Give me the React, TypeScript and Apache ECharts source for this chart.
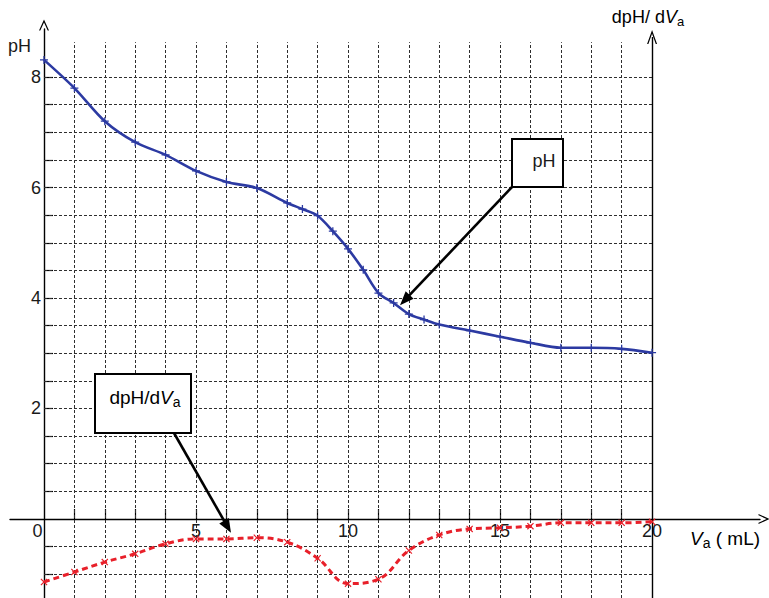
import React, { useEffect, useRef } from "react";
import * as echarts from "echarts";

// Titration readings: pH against added acid volume (mL)
const volumesPH = [0, 1, 2, 3, 4, 5, 6, 7, 8, 8.5, 9, 9.5, 10, 10.5, 11, 11.5, 12, 12.5, 13, 14, 15, 16, 17, 18, 19, 20];
const phValues = [8.31, 7.8, 7.2, 6.82, 6.59, 6.3, 6.1, 5.99, 5.72, 5.61, 5.49, 5.21, 4.89, 4.51, 4.09, 3.91, 3.71, 3.61, 3.52, 3.41, 3.3, 3.19, 3.1, 3.1, 3.08, 3.01];

// Derivative curve dpH/dVa
const volumesDeriv = [0, 1, 2, 3, 4, 5, 6, 7, 8, 9, 10, 11, 12, 13, 14, 15, 16, 17, 18, 19, 20];
const derivValues = [-1.14, -0.96, -0.78, -0.63, -0.45, -0.36, -0.36, -0.34, -0.42, -0.71, -1.17, -1.09, -0.57, -0.29, -0.18, -0.16, -0.13, -0.07, -0.07, -0.07, -0.05];

// Axis ticks, labels and grid
const xTickValues = [1, 2, 3, 4, 5, 6, 7, 8, 9, 10, 11, 12, 13, 14, 15, 16, 17, 18, 19];
const xLabelValues = [0, 5, 10, 15, 20];
const yTickValues = [-1, -0.5, 0.5, 1, 1.5, 2, 2.5, 3, 3.5, 4, 4.5, 5, 5.5, 6, 6.5, 7, 7.5, 8];
const yLabelValues = [2, 4, 6, 8];

// Axis extents
const X_MIN = -1.118;
const X_MAX = 23.55;
const Y_MIN = -1.43;
const Y_MAX = 8.869;
const GRID_TOP = 8.63;
const RIGHT_AXIS_TOP = 8.724;
const X_END = 20;

// Plot frame in pixels
const PLOT_LEFT = 10;
const PLOT_RIGHT = 9;
const PLOT_TOP = 29;
const ZERO_Y = 519;
const ZERO_X = 44;

const FONT = '"Liberation Sans", Arial, sans-serif';
const INK = "#1a1a1a";
const BLUE = "#2c3aa2";
const RED = "#e8202a";

const chevron = "path://M5,0 L10,11 L8.7,11 L5,2.9 L1.3,11 L0,11 Z";
const plusMark = "path://M4.2,0 L5.8,0 L5.8,4.2 L10,4.2 L10,5.8 L5.8,5.8 L5.8,10 L4.2,10 L4.2,5.8 L0,5.8 L0,4.2 L4.2,4.2 Z";
const crossMark = "path://M0,1.2 L1.2,0 L5,3.8 L8.8,0 L10,1.2 L6.2,5 L10,8.8 L8.8,10 L5,6.2 L1.2,10 L0,8.8 L3.8,5 Z";

function arrow(from: number[], to: number[], key: string) {
  const dx = to[0] - from[0];
  const dy = to[1] - from[1];
  const len = Math.sqrt(dx * dx + dy * dy);
  const ux = dx / len;
  const uy = dy / len;
  const headLen = 14;
  const headHalf = 5.5;
  const bx = to[0] - ux * headLen;
  const by = to[1] - uy * headLen;
  return [
    {
      type: "line",
      id: key + "-shaft",
      z: 20,
      shape: { x1: from[0], y1: from[1], x2: bx + ux * 2, y2: by + uy * 2 },
      style: { stroke: "#000", lineWidth: 2.6 },
    },
    {
      type: "polygon",
      id: key + "-head",
      z: 20,
      shape: {
        points: [
          [to[0], to[1]],
          [bx - uy * headHalf, by + ux * headHalf],
          [bx + uy * headHalf, by - ux * headHalf],
        ],
      },
      style: { fill: "#000" },
    },
  ];
}

const axisArrowLine = {
  show: true,
  onZero: false,
  symbol: ["none", chevron],
  symbolSize: [10, 14],
  symbolOffset: [0, 4],
  lineStyle: { color: "#000", width: 1.4 },
};

export default function App() {
  const ref = useRef<HTMLDivElement>(null);

  useEffect(() => {
    if (!ref.current) return;
    const chart = echarts.init(ref.current, undefined, { renderer: "svg" });

    const verticalGrid = xTickValues.map((v) => [
      { coord: [v, Y_MIN] },
      { coord: [v, GRID_TOP] },
    ]);
    const horizontalGrid = yTickValues.map((v) => [
      { coord: [0, v] },
      { coord: [X_END, v] },
    ]);

    chart.setOption({
      animation: false,
      grid: [
        // data area
        { left: PLOT_LEFT, right: PLOT_RIGHT, top: PLOT_TOP, bottom: 0, outerBoundsMode: "none" },
        // volume axis, drawn along pH = 0
        { left: PLOT_LEFT, right: PLOT_RIGHT, top: PLOT_TOP, bottom: 598 - ZERO_Y, outerBoundsMode: "none" },
        // pH axis, drawn along V = 0
        { left: ZERO_X, right: PLOT_RIGHT, top: PLOT_TOP, bottom: 0, outerBoundsMode: "none" },
      ],
      xAxis: [
        { gridIndex: 0, type: "value", min: X_MIN, max: X_MAX, show: false },
        {
          gridIndex: 1,
          type: "value",
          position: "bottom",
          min: X_MIN,
          max: X_MAX,
          axisLine: axisArrowLine,
          axisTick: {
            show: true,
            inside: true,
            length: 10,
            customValues: xTickValues,
            lineStyle: { color: "#000", width: 1.2 },
          },
          axisLabel: {
            show: true,
            customValues: xLabelValues,
            margin: 3,
            fontFamily: FONT,
            fontSize: 18,
            color: INK,
            formatter: (v: number) => (v === 0 ? "{z|0}" : String(v)),
            rich: { z: { fontFamily: FONT, fontSize: 18, color: INK, padding: [0, 13, 0, 0] } },
          },
          splitLine: { show: false },
        },
        { gridIndex: 2, type: "value", min: 0, max: X_MAX, show: false },
      ],
      yAxis: [
        { gridIndex: 0, type: "value", min: Y_MIN, max: Y_MAX, show: false },
        { gridIndex: 1, type: "value", min: 0, max: Y_MAX, show: false },
        {
          gridIndex: 2,
          type: "value",
          position: "left",
          min: Y_MIN,
          max: Y_MAX,
          axisLine: axisArrowLine,
          axisTick: {
            show: true,
            inside: true,
            length: 9,
            customValues: yTickValues,
            lineStyle: { color: "#000", width: 1.2 },
          },
          axisLabel: {
            show: true,
            customValues: yLabelValues,
            margin: 3,
            fontFamily: FONT,
            fontSize: 18,
            color: INK,
          },
          splitLine: { show: false },
        },
      ],
      series: [
        {
          name: "grid",
          type: "line",
          xAxisIndex: 0,
          yAxisIndex: 0,
          data: [],
          silent: true,
          z: 1,
          markLine: {
            silent: true,
            symbol: ["none", "none"],
            label: { show: false },
            emphasis: { disabled: true },
            lineStyle: { color: "#2e2e2e", width: 1, type: [3, 2] },
            data: [...verticalGrid, ...horizontalGrid],
          },
        },
        {
          name: "dpH/dVa axis",
          type: "line",
          xAxisIndex: 0,
          yAxisIndex: 0,
          data: [],
          silent: true,
          z: 2,
          markLine: {
            silent: true,
            symbol: ["none", chevron],
            symbolSize: [10, 14],
            label: { show: false },
            emphasis: { disabled: true },
            lineStyle: { color: "#000", width: 1.4, type: "solid" },
            data: [[{ coord: [X_END, Y_MIN] }, { coord: [X_END, RIGHT_AXIS_TOP] }]],
          },
        },
        {
          name: "pH",
          type: "line",
          xAxisIndex: 0,
          yAxisIndex: 0,
          smooth: 0.3,
          z: 5,
          data: volumesPH.map((v, i) => [v, phValues[i]]),
          symbol: plusMark,
          symbolSize: 8,
          lineStyle: { color: BLUE, width: 2.6 },
          itemStyle: { color: BLUE },
        },
        {
          name: "dpH/dVa",
          type: "line",
          xAxisIndex: 0,
          yAxisIndex: 0,
          smooth: 0.4,
          z: 5,
          data: volumesDeriv.map((v, i) => [v, derivValues[i]]),
          symbol: crossMark,
          symbolSize: 7,
          lineStyle: { color: RED, width: 3, type: [6, 4] },
          itemStyle: { color: RED },
        },
      ],
    });

    const toPx = (p: number[]) => chart.convertToPixel({ gridIndex: 0 }, p) as number[];
    const phTip = toPx([11.71, 3.87]);
    const derivTip = toPx([6.15, -0.25]);

    chart.setOption({
      graphic: [
        ...arrow([512, 187], phTip, "ph-arrow"),
        ...arrow([170, 426], derivTip, "deriv-arrow"),
        {
          type: "rect",
          id: "ph-box",
          z: 21,
          shape: { x: 512, y: 139, width: 51, height: 48 },
          style: { fill: "#fff", stroke: "#000", lineWidth: 2 },
        },
        {
          type: "text",
          id: "ph-box-text",
          z: 22,
          x: 544,
          y: 161,
          style: { text: "pH", font: `18px ${FONT}`, fill: INK, align: "center", verticalAlign: "middle" },
        },
        {
          type: "rect",
          id: "deriv-box",
          z: 21,
          shape: { x: 95, y: 374, width: 96, height: 59 },
          style: { fill: "#fff", stroke: "#000", lineWidth: 2 },
        },
        {
          type: "text",
          id: "deriv-box-text",
          z: 22,
          x: 145,
          y: 397,
          style: {
            text: "{n|dpH/d}{i|V}{s|a}",
            align: "center",
            verticalAlign: "middle",
            rich: {
              n: { fontFamily: FONT, fontSize: 19, color: INK },
              i: { fontFamily: FONT, fontSize: 19, fontStyle: "italic", color: INK },
              s: { fontFamily: FONT, fontSize: 14, color: INK, padding: [10, 0, 0, 0] },
            },
          },
        },
        {
          type: "text",
          id: "ph-axis-name",
          z: 22,
          x: 8,
          y: 46,
          style: { text: "pH", font: `18px ${FONT}`, fill: INK, align: "left", verticalAlign: "middle" },
        },
        {
          type: "text",
          id: "deriv-axis-name",
          z: 22,
          x: 648,
          y: 17,
          style: {
            text: "{n|dpH/ d}{i|V}{s|a}",
            align: "center",
            verticalAlign: "middle",
            rich: {
              n: { fontFamily: FONT, fontSize: 18, color: INK },
              i: { fontFamily: FONT, fontSize: 18, fontStyle: "italic", color: INK },
              s: { fontFamily: FONT, fontSize: 13, color: INK, padding: [9, 0, 0, 0] },
            },
          },
        },
        {
          type: "text",
          id: "volume-axis-name",
          z: 22,
          x: 690,
          y: 538,
          style: {
            text: "{i|V}{s|a}{n| ( mL)}",
            align: "left",
            verticalAlign: "middle",
            rich: {
              n: { fontFamily: FONT, fontSize: 19, color: INK },
              i: { fontFamily: FONT, fontSize: 19, fontStyle: "italic", color: INK },
              s: { fontFamily: FONT, fontSize: 14, color: INK, padding: [10, 0, 0, 0] },
            },
          },
        },
      ],
    });

    return () => chart.dispose();
  }, []);

  return (
    <div
      ref={ref}
      style={{ position: "absolute", left: 0, top: 0, width: 769, height: 598, background: "#fff" }}
    />
  );
}
